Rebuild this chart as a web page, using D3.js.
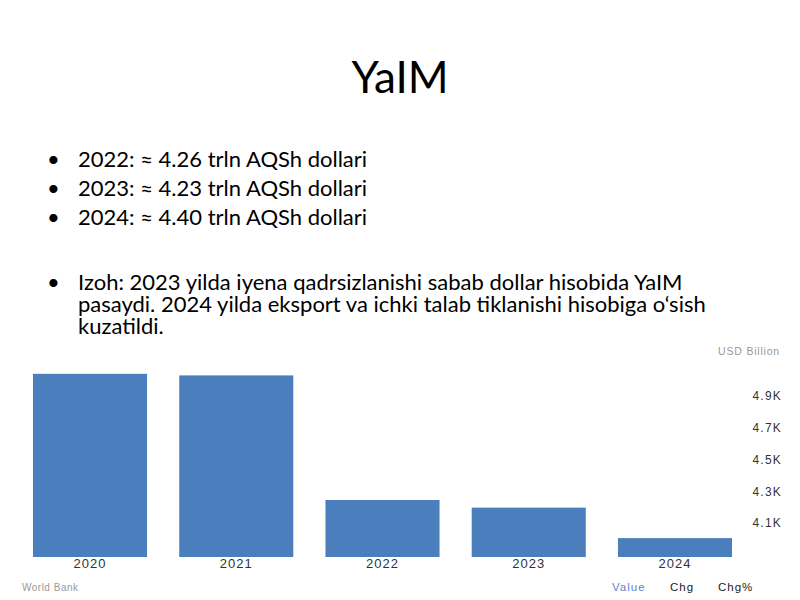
<!DOCTYPE html>
<html>
<head>
<meta charset="utf-8">
<script src="https://cdn.jsdelivr.net/npm/d3@7"></script>
<style>
  body { margin: 0; background: #fff; }
  svg { display: block; }
</style>
</head>
<body>
<script>
var width = 800;
var height = 600;

// data
var years = ["2020", "2021", "2022", "2023", "2024"];
var gdp = [5040, 5030, 4245, 4197, 4005];   // USD billion
var yTicks = [4100, 4300, 4500, 4700, 4900];
var bullets = [
  "2022: \u2248 4.26 trln AQSh dollari",
  "2023: \u2248 4.23 trln AQSh dollari",
  "2024: \u2248 4.40 trln AQSh dollari"
];
var note = [
  "Izoh: 2023 yilda iyena qadrsizlanishi sabab dollar hisobida YaIM",
  "pasaydi. 2024 yilda eksport va ichki talab tiklanishi hisobiga o\u2018sish",
  "kuzatildi."
];
var tabs = ["Value", "Chg", "Chg%"];

var svg = d3.select("body")
            .append("svg")
            .attr("width", width)
            .attr("height", height);

// title
svg.append("text")
   .attr("x", 400)
   .attr("y", 93)
   .attr("text-anchor", "middle")
   .style("font-family", "Lato, sans-serif")
   .style("font-size", "44px")
   .style("fill", "#000")
   .text("YaIM");

// bullet list
var txt = svg.append("g")
             .style("font-family", "Lato, sans-serif")
             .style("font-size", "22px")
             .style("fill", "#000");

bullets.forEach(function(d, i) {
  var y = 167 + i * 29;
  txt.append("text").attr("x", 47).attr("y", y).text("\u2022");
  txt.append("text").attr("x", 78).attr("y", y).text(d);
});

txt.append("text").attr("x", 47).attr("y", 290).text("\u2022");
note.forEach(function(d, i) {
  txt.append("text").attr("x", 78).attr("y", 290 + i * 22).text(d);
});

// chart
var x = d3.scaleBand()
          .domain(years)
          .range([16.9, 748.1])
          .paddingInner(0.22)
          .paddingOuter(0.11);

var y = d3.scaleLinear()
          .domain([3886, 5100])
          .range([557, 364.3]);

svg.selectAll("rect.bar")
   .data(years)
   .enter()
   .append("rect")
   .attr("class", "bar")
   .attr("x", function(d) { return x(d); })
   .attr("width", x.bandwidth())
   .attr("y", function(d, i) { return y(gdp[i]); })
   .attr("height", function(d, i) { return y.range()[0] - y(gdp[i]); })
   .style("fill", "#4a7ebd");

// x labels
svg.append("g")
   .attr("transform", "translate(0,557)")
   .call(d3.axisBottom(x).tickSize(0).tickPadding(2))
   .call(function(g) { g.select(".domain").remove(); })
   .selectAll("text")
   .style("font-family", "Liberation Sans, Arial, sans-serif")
   .style("font-size", "13px")
   .style("letter-spacing", "1px")
   .style("fill", "#333");

// y axis on the right, labels right-aligned
var yAxis = svg.append("g")
   .attr("transform", "translate(782,0)")
   .call(d3.axisRight(y)
           .tickValues(yTicks)
           .tickSize(0)
           .tickFormat(function(d) { return (d / 1000).toFixed(1) + "K"; }));
yAxis.select(".domain").remove();
yAxis.selectAll("text")
     .attr("x", 0)
     .attr("text-anchor", "end")
     .style("font-family", "Liberation Sans, Arial, sans-serif")
     .style("font-size", "12px")
     .style("letter-spacing", "1.2px")
     .style("fill", "#333");

svg.append("text")
   .attr("x", 780)
   .attr("y", 355)
   .attr("text-anchor", "end")
   .style("font-family", "Liberation Sans, Arial, sans-serif")
   .style("font-size", "10.5px")
   .style("letter-spacing", "0.8px")
   .style("fill", "#999")
   .text("USD Billion");

svg.append("text")
   .attr("x", 22)
   .attr("y", 591)
   .style("font-family", "Liberation Sans, Arial, sans-serif")
   .style("font-size", "10px")
   .style("letter-spacing", "0.5px")
   .style("fill", "#999")
   .text("World Bank");

var tabX = [612, 670, 718];
svg.selectAll("text.tab")
   .data(tabs)
   .enter()
   .append("text")
   .attr("class", "tab")
   .attr("x", function(d, i) { return tabX[i]; })
   .attr("y", 591)
   .style("font-family", "Liberation Sans, Arial, sans-serif")
   .style("font-size", "11.5px")
   .style("letter-spacing", "1px")
   .style("fill", function(d, i) { return i === 0 ? "#5b86c4" : "#222"; })
   .text(function(d) { return d; });
</script>
</body>
</html>
